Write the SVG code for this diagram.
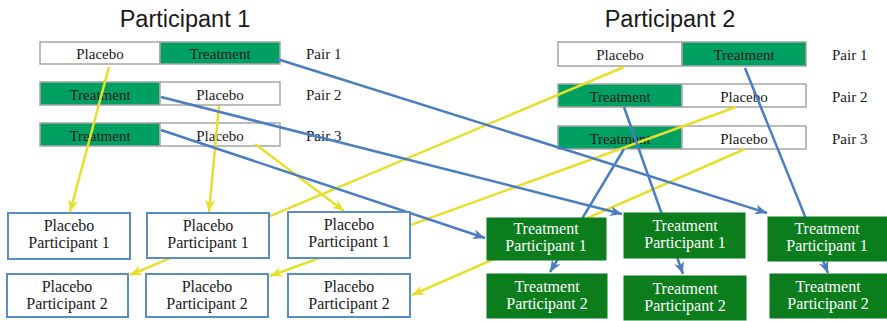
<svg xmlns="http://www.w3.org/2000/svg" width="887" height="321" viewBox="0 0 887 321">
  <style>
    .title { font-family: "Liberation Sans", Arial, sans-serif; font-size: 23.5px; fill: #1a1a1a; }
    .serif { font-family: "Liberation Serif", Tinos, "Times New Roman", "DejaVu Serif", serif; }
    .bar { font-size: 15px; fill: #1a1a1a; text-anchor: middle; }
    .pair { font-size: 15px; fill: #1a1a1a; }
    .cell-w { fill: #ffffff; stroke: #a6a6a6; stroke-width: 1.5; }
    .cell-g { fill: #00a062; stroke: #a6a6a6; stroke-width: 1.5; }
    .pbox { fill: #ffffff; stroke: #5a8ccc; stroke-width: 2; }
    .tbox { fill: #0b7d1d; stroke: #0b7d1d; stroke-width: 1; }
    .lbl { font-size: 16px; text-anchor: middle; fill: #1a1a1a; }
    .lbl-w { font-size: 16px; text-anchor: middle; fill: #ffffff; }
    .yl { stroke: #e6e02a; stroke-width: 2.5; fill: none; marker-end: url(#ah-y); }
    .bl { stroke: #4a7dc2; stroke-width: 2.5; fill: none; marker-end: url(#ah-b); }
  </style>
  <defs>
    <marker id="ah-y" markerUnits="userSpaceOnUse" markerWidth="14" markerHeight="12" refX="12" refY="5" orient="auto">
      <path d="M0,0 L12,5 L0,10 L3.5,5 z" fill="#e6e02a"/>
    </marker>
    <marker id="ah-b" markerUnits="userSpaceOnUse" markerWidth="14" markerHeight="12" refX="12" refY="5" orient="auto">
      <path d="M0,0 L12,5 L0,10 L3.5,5 z" fill="#4a7dc2"/>
    </marker>
  </defs>

  <!-- headings -->
  <text class="title" x="185" y="27" text-anchor="middle">Participant 1</text>
  <text class="title" x="670" y="27" text-anchor="middle">Participant 2</text>

  <!-- participant 1 sequence pairs -->
  <g id="p1-pair1" class="serif">
    <rect class="cell-w" x="40" y="42" width="120" height="22"/>
    <rect class="cell-g" x="160" y="42" width="120" height="22"/>
    <text class="bar" x="100" y="59">Placebo</text>
    <text class="bar" x="220" y="59">Treatment</text>
    <text class="pair" x="306" y="59">Pair 1</text>
  </g>
  <g id="p1-pair2" class="serif">
    <rect class="cell-g" x="40" y="82" width="120" height="23"/>
    <rect class="cell-w" x="160" y="82" width="120" height="23"/>
    <text class="bar" x="100" y="100">Treatment</text>
    <text class="bar" x="220" y="100">Placebo</text>
    <text class="pair" x="306" y="100">Pair 2</text>
  </g>
  <g id="p1-pair3" class="serif">
    <rect class="cell-g" x="40" y="123" width="120" height="23"/>
    <rect class="cell-w" x="160" y="123" width="120" height="23"/>
    <text class="bar" x="100" y="141">Treatment</text>
    <text class="bar" x="220" y="141">Placebo</text>
    <text class="pair" x="306" y="141">Pair 3</text>
  </g>

  <!-- participant 2 sequence pairs -->
  <g id="p2-pair1" class="serif">
    <rect class="cell-w" x="558" y="42" width="124" height="24"/>
    <rect class="cell-g" x="682" y="42" width="124" height="24"/>
    <text class="bar" x="620" y="60">Placebo</text>
    <text class="bar" x="744" y="60">Treatment</text>
    <text class="pair" x="832" y="60">Pair 1</text>
  </g>
  <g id="p2-pair2" class="serif">
    <rect class="cell-g" x="558" y="84" width="124" height="23"/>
    <rect class="cell-w" x="682" y="84" width="124" height="23"/>
    <text class="bar" x="620" y="102">Treatment</text>
    <text class="bar" x="744" y="102">Placebo</text>
    <text class="pair" x="832" y="102">Pair 2</text>
  </g>
  <g id="p2-pair3" class="serif">
    <rect class="cell-g" x="558" y="126" width="124" height="23"/>
    <rect class="cell-w" x="682" y="126" width="124" height="23"/>
    <text class="bar" x="620" y="144">Treatment</text>
    <text class="bar" x="744" y="144">Placebo</text>
    <text class="pair" x="832" y="144">Pair 3</text>
  </g>

  <!-- allocation connectors -->
  <g id="connectors">
    <line class="yl" x1="109" y1="67" x2="70" y2="212"/>
    <line class="yl" x1="219" y1="106" x2="209" y2="212"/>
    <line class="yl" x1="255" y1="144" x2="344" y2="211"/>
    <line class="yl" x1="624" y1="67" x2="130" y2="275"/>
    <line class="yl" x1="736" y1="107" x2="270" y2="276"/>
    <line class="yl" x1="745" y1="149" x2="412" y2="295"/>
    <line class="bl" x1="277" y1="59" x2="767" y2="213"/>
    <line class="bl" x1="161" y1="97" x2="622" y2="214"/>
    <line class="bl" x1="161" y1="130" x2="485" y2="238"/>
    <line class="bl" x1="624" y1="107" x2="683" y2="274"/>
    <line class="bl" x1="624" y1="149" x2="550" y2="272"/>
    <line class="bl" x1="745" y1="68" x2="828" y2="273"/>
  </g>

  <!-- placebo outcome boxes -->
  <g id="plc-p1-a" class="serif">
    <rect class="pbox" x="8" y="213" width="122" height="46"/>
    <text class="lbl" x="69" y="231">Placebo</text>
    <text class="lbl" x="69" y="248">Participant 1</text>
  </g>
  <g id="plc-p1-b" class="serif">
    <rect class="pbox" x="147" y="213" width="122" height="45"/>
    <text class="lbl" x="208" y="231">Placebo</text>
    <text class="lbl" x="208" y="248">Participant 1</text>
  </g>
  <g id="plc-p1-c" class="serif">
    <rect class="pbox" x="288" y="212" width="122" height="46"/>
    <text class="lbl" x="349" y="230">Placebo</text>
    <text class="lbl" x="349" y="247">Participant 1</text>
  </g>
  <g id="plc-p2-a" class="serif">
    <rect class="pbox" x="7" y="274" width="121" height="43"/>
    <text class="lbl" x="67" y="292">Placebo</text>
    <text class="lbl" x="67" y="309">Participant 2</text>
  </g>
  <g id="plc-p2-b" class="serif">
    <rect class="pbox" x="146" y="274" width="122" height="43"/>
    <text class="lbl" x="207" y="292">Placebo</text>
    <text class="lbl" x="207" y="309">Participant 2</text>
  </g>
  <g id="plc-p2-c" class="serif">
    <rect class="pbox" x="288" y="274" width="122" height="43"/>
    <text class="lbl" x="349" y="292">Placebo</text>
    <text class="lbl" x="349" y="309">Participant 2</text>
  </g>

  <!-- treatment outcome boxes -->
  <g id="trt-p1-a" class="serif">
    <rect class="tbox" x="487" y="218" width="119" height="42"/>
    <text class="lbl-w" x="546" y="234">Treatment</text>
    <text class="lbl-w" x="546" y="251">Participant 1</text>
  </g>
  <g id="trt-p1-b" class="serif">
    <rect class="tbox" x="624" y="213" width="121" height="45"/>
    <text class="lbl-w" x="685" y="231">Treatment</text>
    <text class="lbl-w" x="685" y="248">Participant 1</text>
  </g>
  <g id="trt-p1-c" class="serif">
    <rect class="tbox" x="768" y="217" width="119" height="44"/>
    <text class="lbl-w" x="827" y="234">Treatment</text>
    <text class="lbl-w" x="827" y="251">Participant 1</text>
  </g>
  <g id="trt-p2-a" class="serif">
    <rect class="tbox" x="487" y="274" width="120" height="44"/>
    <text class="lbl-w" x="547" y="292">Treatment</text>
    <text class="lbl-w" x="547" y="309">Participant 2</text>
  </g>
  <g id="trt-p2-b" class="serif">
    <rect class="tbox" x="624" y="276" width="122" height="44"/>
    <text class="lbl-w" x="685" y="294">Treatment</text>
    <text class="lbl-w" x="685" y="311">Participant 2</text>
  </g>
  <g id="trt-p2-c" class="serif">
    <rect class="tbox" x="770" y="274" width="117" height="44"/>
    <text class="lbl-w" x="828" y="292">Treatment</text>
    <text class="lbl-w" x="828" y="309">Participant 2</text>
  </g>
</svg>
